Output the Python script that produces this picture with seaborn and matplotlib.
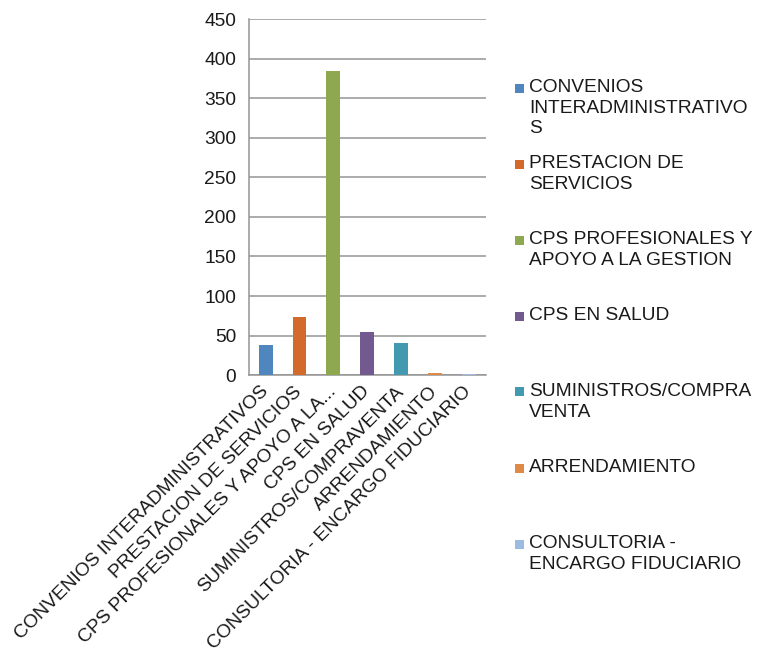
import matplotlib
matplotlib.use("Agg")
import matplotlib.pyplot as plt
import seaborn as sns
import pandas as pd
from matplotlib.patches import Rectangle

# --- Data ---
categories = [
    "CONVENIOS INTERADMINISTRATIVOS",
    "PRESTACION DE SERVICIOS",
    "CPS PROFESIONALES Y APOYO A LA GESTION",
    "CPS EN SALUD",
    "SUMINISTROS/COMPRAVENTA",
    "ARRENDAMIENTO",
    "CONSULTORIA - ENCARGO FIDUCIARIO",
]
values = [38, 74, 384, 55, 41, 2.5, 1.5]
tick_labels = [
    "CONVENIOS INTERADMINISTRATIVOS",
    "PRESTACION DE SERVICIOS",
    "CPS PROFESIONALES Y APOYO A LA...",
    "CPS EN SALUD",
    "SUMINISTROS/COMPRAVENTA",
    "ARRENDAMIENTO",
    "CONSULTORIA - ENCARGO FIDUCIARIO",
]
legend_labels = [
    "CONVENIOS\nINTERADMINISTRATIVO\nS",
    "PRESTACION DE\nSERVICIOS",
    "CPS PROFESIONALES Y\nAPOYO A LA GESTION",
    "CPS EN SALUD",
    "SUMINISTROS/COMPRA\nVENTA",
    "ARRENDAMIENTO",
    "CONSULTORIA -\nENCARGO FIDUCIARIO",
]
colors = ["#4F86BE", "#D4692C", "#8DA84E", "#725A91", "#4399AF", "#E08A48", "#9DBBE0"]

df = pd.DataFrame({"Tipo": categories, "Cantidad": values})

sns.set_style("white")
plt.rcParams["font.family"] = ["Liberation Sans", "DejaVu Sans"]
text_color = "#1a1a1a"
grid_color = "#959595"
fs = 13.8

fig = plt.figure(figsize=(7.58, 6.56), dpi=100)
ax = fig.add_axes([0.328, 0.428, 0.313, 0.543])

sns.barplot(data=df, x="Tipo", y="Cantidad", hue="Tipo", palette=colors,
            width=0.41, dodge=False, legend=False, saturation=1,
            linewidth=0, ax=ax)
for p in ax.patches:
    p.set_zorder(3)

ax.set_ylim(0, 450)
ax.set_xlim(-0.5, len(categories) - 0.5)
ax.set_yticks(range(0, 451, 50))
ax.yaxis.grid(True, color=grid_color, linewidth=1.1)
ax.set_axisbelow(True)
ax.set_xlabel("")
ax.set_ylabel("")

for side in ["top", "right"]:
    ax.spines[side].set_visible(False)
for side in ["left", "bottom"]:
    ax.spines[side].set_color(grid_color)
    ax.spines[side].set_linewidth(1.1)
    ax.spines[side].set_zorder(2)

ax.tick_params(axis="y", length=5, color=grid_color, labelsize=fs,
               labelcolor=text_color, pad=4)
ax.set_xticks(range(len(categories)))
ax.set_xticklabels(tick_labels, rotation=45, ha="right", va="center",
                   rotation_mode="anchor", fontsize=fs, color=text_color)
ax.tick_params(axis="x", which="major", length=0, pad=10)
ax.set_xticks([i - 0.5 for i in range(len(categories) + 1)], minor=True)
ax.tick_params(axis="x", which="minor", length=6, color=grid_color, width=1.1)

# Legend drawn as boxes and text on the figure
W, H = 758, 656
y0 = 88
step = 76
for i, (lab, col) in enumerate(zip(legend_labels, colors)):
    ytop = y0 + i * step
    fig.add_artist(Rectangle((515 / W, 1 - (ytop + 4.5) / H), 9 / W, 9 / H,
                             transform=fig.transFigure, facecolor=col,
                             edgecolor="none"))
    fig.text(529 / W, 1 - (ytop - 9) / H, lab, ha="left", va="top",
             fontsize=fs, color=text_color, linespacing=1.28)

fig.savefig("out.png", dpi=100)
